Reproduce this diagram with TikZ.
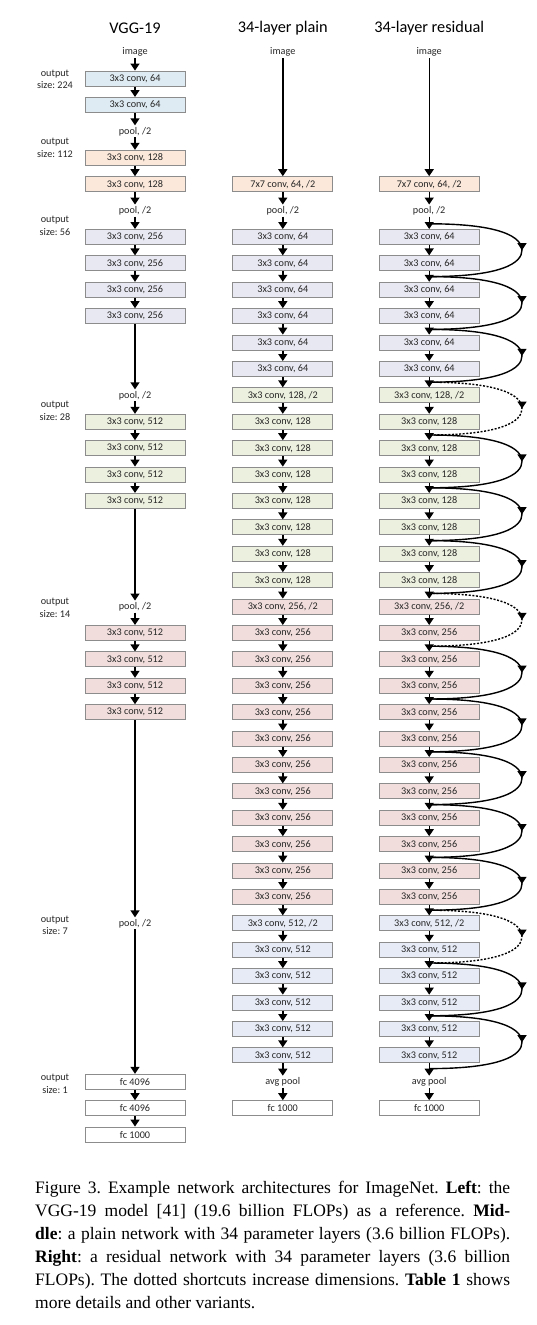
\documentclass[tikz,border=0pt]{standalone}
\usepackage{fontspec}
\setmainfont{Liberation Serif}
\newfontfamily\calfont{Carlito}
\usetikzlibrary{arrows.meta,decorations.markings}
\definecolor{cBlue}{RGB}{222,235,242}
\definecolor{cPeach}{RGB}{251,232,218}
\definecolor{cLav}{RGB}{232,232,242}
\definecolor{cGreen}{RGB}{236,240,222}
\definecolor{cPink}{RGB}{241,222,220}
\definecolor{cLblue}{RGB}{230,235,246}
\definecolor{boxgray}{RGB}{140,140,140}
\definecolor{txt}{RGB}{40,40,40}
\begin{document}
\frenchspacing
\begin{tikzpicture}[x=1pt,y=-1pt,
  layer/.style={draw=boxgray, line width=1pt, minimum width=100pt, minimum height=15pt, inner sep=0pt, text=txt, font=\calfont\fontsize{10.2}{11}\selectfont},
  lbl/.style={inner sep=1.5pt, text=txt, font=\calfont\fontsize{10.2}{11}\selectfont},
  flow/.style={-{Triangle[width=9pt,length=7pt]}, line width=1.4pt},
  skipline/.style={line width=1.4pt, postaction={decorate}, decoration={markings, mark=at position 0.5 with {\arrow{Triangle[width=9pt,length=7pt]}}}},
  dotline/.style={skipline, dash pattern=on 2pt off 1.6pt},
  title/.style={font=\calfont\fontsize{16.3}{19}\selectfont, text=black},
  outlbl/.style={align=center, inner sep=0pt, text=txt, font=\calfont\fontsize{10.2}{12.5}\selectfont}]
\fill[white] (0,0) rectangle (537,1325);
\useasboundingbox (0,0) rectangle (537,1325);

% titles
\node[title] (t1) at (135,28) {VGG-19};
\node[title] (t2) at (282.8,28) {34-layer plain};
\node[title] (t3) at (429.2,28) {34-layer residual};

% output size labels
\node[outlbl] (o1) at (55,79.5) {output\\size: 224};
\node[outlbl] (o2) at (55,148) {output\\size: 112};
\node[outlbl] (o3) at (55,226) {output\\size: 56};
\node[outlbl] (o4) at (55,411) {output\\size: 28};
\node[outlbl] (o5) at (55,608) {output\\size: 14};
\node[outlbl] (o6) at (55,925.5) {output\\size: 7};
\node[outlbl] (o7) at (55,1084) {output\\size: 1};

% VGG-19 column
\def\vx{135}
\node[lbl] (v-im) at (\vx,{237-7*26.4}) {image};
\node[layer, fill=cBlue] (v-1) at (\vx,{237-6*26.4}) {3x3 conv, 64};
\node[layer, fill=cBlue] (v-2) at (\vx,{237-5*26.4}) {3x3 conv, 64};
\node[lbl] (v-p1) at (\vx,{237-4*26.4}) {pool, /2};
\node[layer, fill=cPeach] (v-3) at (\vx,{237-3*26.4}) {3x3 conv, 128};
\node[layer, fill=cPeach] (v-4) at (\vx,{237-2*26.4}) {3x3 conv, 128};
\node[lbl] (v-p2) at (\vx,{237-1*26.4}) {pool, /2};
\node[layer, fill=cLav] (v-5) at (\vx,{237+0*26.4}) {3x3 conv, 256};
\node[layer, fill=cLav] (v-6) at (\vx,{237+1*26.4}) {3x3 conv, 256};
\node[layer, fill=cLav] (v-7) at (\vx,{237+2*26.4}) {3x3 conv, 256};
\node[layer, fill=cLav] (v-8) at (\vx,{237+3*26.4}) {3x3 conv, 256};
\node[lbl] (v-p3) at (\vx,{237+6*26.4}) {pool, /2};
\node[layer, fill=cGreen] (v-9) at (\vx,{237+7*26.4}) {3x3 conv, 512};
\node[layer, fill=cGreen] (v-10) at (\vx,{237+8*26.4}) {3x3 conv, 512};
\node[layer, fill=cGreen] (v-11) at (\vx,{237+9*26.4}) {3x3 conv, 512};
\node[layer, fill=cGreen] (v-12) at (\vx,{237+10*26.4}) {3x3 conv, 512};
\node[lbl] (v-p4) at (\vx,{237+14*26.4}) {pool, /2};
\node[layer, fill=cPink] (v-13) at (\vx,{237+15*26.4}) {3x3 conv, 512};
\node[layer, fill=cPink] (v-14) at (\vx,{237+16*26.4}) {3x3 conv, 512};
\node[layer, fill=cPink] (v-15) at (\vx,{237+17*26.4}) {3x3 conv, 512};
\node[layer, fill=cPink] (v-16) at (\vx,{237+18*26.4}) {3x3 conv, 512};
\node[lbl] (v-p5) at (\vx,{237+26*26.4}) {pool, /2};
\node[layer, fill=white] (v-fc1) at (\vx,{237+32*26.4}) {fc 4096};
\node[layer, fill=white] (v-fc2) at (\vx,{237+33*26.4}) {fc 4096};
\node[layer, fill=white] (v-fc3) at (\vx,{237+34*26.4}) {fc 1000};
\foreach \a/\b in {im/1,1/2,2/p1,p1/3,3/4,4/p2,p2/5,5/6,6/7,7/8,8/p3,p3/9,9/10,10/11,11/12,12/p4,p4/13,13/14,14/15,15/16,16/p5,p5/fc1,fc1/fc2,fc2/fc3}
  \draw[flow] (v-\a) -- (v-\b);

% plain and residual columns
\foreach \c/\cx in {p/282.8, r/429.2}{
  \node[lbl] (\c-im) at (\cx,{237-7*26.4}) {image};
  \node[layer, fill=cPeach] (\c-s) at (\cx,{237-2*26.4}) {7x7 conv, 64, /2};
  \node[lbl] (\c-pool) at (\cx,{237-26.4}) {pool, /2};
  \foreach \k in {0,...,31}{
    \ifnum\k<6 \def\fl{cLav}\def\tx{3x3 conv, 64}\else
    \ifnum\k=6 \def\fl{cGreen}\def\tx{3x3 conv, 128, /2}\else
    \ifnum\k<14 \def\fl{cGreen}\def\tx{3x3 conv, 128}\else
    \ifnum\k=14 \def\fl{cPink}\def\tx{3x3 conv, 256, /2}\else
    \ifnum\k<26 \def\fl{cPink}\def\tx{3x3 conv, 256}\else
    \ifnum\k=26 \def\fl{cLblue}\def\tx{3x3 conv, 512, /2}\else
    \def\fl{cLblue}\def\tx{3x3 conv, 512}\fi\fi\fi\fi\fi\fi
    \node[layer, fill=\fl] (\c-\k) at (\cx,{237+26.4*\k}) {\tx};
  }
  \node[lbl] (\c-avg) at (\cx,{237+32*26.4}) {avg pool};
  \node[layer, fill=white] (\c-fc) at (\cx,{237+33*26.4}) {fc 1000};
  \draw[flow] (\c-im) -- (\c-s);
  \draw[flow] (\c-s) -- (\c-pool);
  \draw[flow] (\c-pool) -- (\c-0);
  \foreach \k in {0,...,30}{
    \pgfmathtruncatemacro\kn{\k+1}
    \draw[flow] (\c-\k) -- (\c-\kn);
  }
  \draw[flow] (\c-31) -- (\c-avg);
  \draw[flow] (\c-avg) -- (\c-fc);
}

% shortcut junctions
\foreach \k in {-1,1,3,...,31}{
  \coordinate (j\k) at (429.2,{250.2+26.4*\k});
  \coordinate (m\k) at (522,{250.2+26.4*\k+26.4});
}
\foreach \a/\st in {-1/skipline,1/skipline,3/skipline,5/dotline,7/skipline,9/skipline,11/skipline,13/dotline,15/skipline,17/skipline,19/skipline,21/skipline,23/skipline,25/dotline,27/skipline,29/skipline}{
  \pgfmathtruncatemacro\b{\a+2}
  \draw[\st] (j\a) .. controls +(72,0) and +(0,-13) .. (m\a) .. controls +(0,13) and +(72,0) .. (j\b);
}

% caption
\node[anchor=north west, inner sep=0pt, text width=475pt, align=justify, font=\fontsize{17.5}{23}\selectfont] (cap) at (35,1181) {Figure 3. Example network architectures for ImageNet. \textbf{Left}: the\linebreak VGG-19 model [41] (19.6 billion FLOPs) as a reference. \textbf{Mid-}\linebreak\textbf{dle}: a plain network with 34 parameter layers (3.6 billion FLOPs).\linebreak \textbf{Right}: a residual network with 34 parameter layers (3.6 billion\linebreak FLOPs). The dotted shortcuts increase dimensions. \textbf{Table 1} shows\linebreak more details and other variants.};
\end{tikzpicture}
\end{document}
